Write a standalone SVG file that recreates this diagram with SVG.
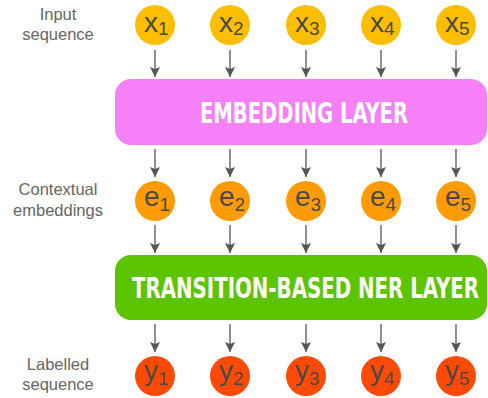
<svg xmlns="http://www.w3.org/2000/svg" width="488" height="398" viewBox="0 0 488 398">
<defs>
<marker id="ah" viewBox="0 0 10 10" refX="10" refY="5" markerWidth="10" markerHeight="10" markerUnits="userSpaceOnUse" orient="auto">
<path d="M0,0 L10,5 L0,10 L2,5 z" fill="#555"/>
</marker>
<style>
.lab{font-family:"Liberation Sans",Arial,sans-serif;font-size:16.5px;fill:#666;text-anchor:middle}
.sym{font-family:"Liberation Sans",Arial,sans-serif;font-size:28px;fill:#4a4a4a}
.sub{font-size:19px}
.layer{font-family:"DejaVu Sans Condensed","DejaVu Sans",sans-serif;font-stretch:condensed;font-weight:bold;fill:#fff;text-anchor:middle}
.ar{stroke:#555;stroke-width:1.3;fill:none;marker-end:url(#ah)}
.cx{fill:#FDBE00}
.ce{fill:#FF9B05}
.cy{fill:#FF4A05}
</style>
</defs>
<g id="labels">
<text class="lab" x="58" y="20">Input</text>
<text class="lab" x="58" y="40">sequence</text>
<text class="lab" x="58" y="195">Contextual</text>
<text class="lab" x="58" y="216">embeddings</text>
<text class="lab" x="58" y="370">Labelled</text>
<text class="lab" x="58" y="390">sequence</text>
</g>
<g id="connectors">
<line class="ar" x1="155" y1="50" x2="155" y2="77"/>
<line class="ar" x1="230" y1="50" x2="230" y2="77"/>
<line class="ar" x1="306" y1="50" x2="306" y2="77"/>
<line class="ar" x1="381" y1="50" x2="381" y2="77"/>
<line class="ar" x1="456" y1="50" x2="456" y2="77"/>
<line class="ar" x1="155" y1="149" x2="155" y2="177"/>
<line class="ar" x1="230" y1="149" x2="230" y2="177"/>
<line class="ar" x1="306" y1="149" x2="306" y2="177"/>
<line class="ar" x1="381" y1="149" x2="381" y2="177"/>
<line class="ar" x1="456" y1="149" x2="456" y2="177"/>
<line class="ar" x1="155" y1="225" x2="155" y2="253"/>
<line class="ar" x1="230" y1="225" x2="230" y2="253"/>
<line class="ar" x1="306" y1="225" x2="306" y2="253"/>
<line class="ar" x1="381" y1="225" x2="381" y2="253"/>
<line class="ar" x1="456" y1="225" x2="456" y2="253"/>
<line class="ar" x1="155" y1="324" x2="155" y2="352"/>
<line class="ar" x1="230" y1="324" x2="230" y2="352"/>
<line class="ar" x1="306" y1="324" x2="306" y2="352"/>
<line class="ar" x1="381" y1="324" x2="381" y2="352"/>
<line class="ar" x1="456" y1="324" x2="456" y2="352"/>
</g>
<g id="x1"><circle class="cx" cx="155" cy="25" r="20"/><text class="sym" x="144" y="32">x<tspan class="sub" dy="3">1</tspan></text></g>
<g id="x2"><circle class="cx" cx="230" cy="25" r="20"/><text class="sym" x="219" y="32">x<tspan class="sub" dy="3">2</tspan></text></g>
<g id="x3"><circle class="cx" cx="306" cy="25" r="20"/><text class="sym" x="295" y="32">x<tspan class="sub" dy="3">3</tspan></text></g>
<g id="x4"><circle class="cx" cx="381" cy="25" r="20"/><text class="sym" x="370" y="32">x<tspan class="sub" dy="3">4</tspan></text></g>
<g id="x5"><circle class="cx" cx="456" cy="25" r="20"/><text class="sym" x="445" y="32">x<tspan class="sub" dy="3">5</tspan></text></g>
<g id="embedding"><rect x="115" y="79" width="372" height="66" rx="16" fill="#F580F8"/><text class="layer" x="304" y="123" font-size="28" textLength="208" lengthAdjust="spacingAndGlyphs">EMBEDDING LAYER</text></g>
<g id="e1"><circle class="ce" cx="155" cy="201" r="20"/><text class="sym" x="144" y="206">e<tspan class="sub" dy="5">1</tspan></text></g>
<g id="e2"><circle class="ce" cx="230" cy="201" r="20"/><text class="sym" x="219" y="206">e<tspan class="sub" dy="5">2</tspan></text></g>
<g id="e3"><circle class="ce" cx="306" cy="201" r="20"/><text class="sym" x="295" y="206">e<tspan class="sub" dy="5">3</tspan></text></g>
<g id="e4"><circle class="ce" cx="381" cy="201" r="20"/><text class="sym" x="370" y="206">e<tspan class="sub" dy="5">4</tspan></text></g>
<g id="e5"><circle class="ce" cx="456" cy="201" r="20"/><text class="sym" x="445" y="206">e<tspan class="sub" dy="5">5</tspan></text></g>
<g id="ner"><rect x="115" y="255" width="372" height="65" rx="16" fill="#5CC400"/><text class="layer" transform="translate(305.5,298) scale(1,1.3)" x="0" y="0" font-size="22" textLength="347" lengthAdjust="spacingAndGlyphs">TRANSITION-BASED NER LAYER</text></g>
<g id="y1"><circle class="cy" cx="155" cy="376" r="20"/><text class="sym" x="144" y="380">y<tspan class="sub" dy="5">1</tspan></text></g>
<g id="y2"><circle class="cy" cx="230" cy="376" r="20"/><text class="sym" x="219" y="380">y<tspan class="sub" dy="5">2</tspan></text></g>
<g id="y3"><circle class="cy" cx="306" cy="376" r="20"/><text class="sym" x="295" y="380">y<tspan class="sub" dy="5">3</tspan></text></g>
<g id="y4"><circle class="cy" cx="381" cy="376" r="20"/><text class="sym" x="370" y="380">y<tspan class="sub" dy="5">4</tspan></text></g>
<g id="y5"><circle class="cy" cx="456" cy="376" r="20"/><text class="sym" x="445" y="380">y<tspan class="sub" dy="5">5</tspan></text></g>
</svg>
